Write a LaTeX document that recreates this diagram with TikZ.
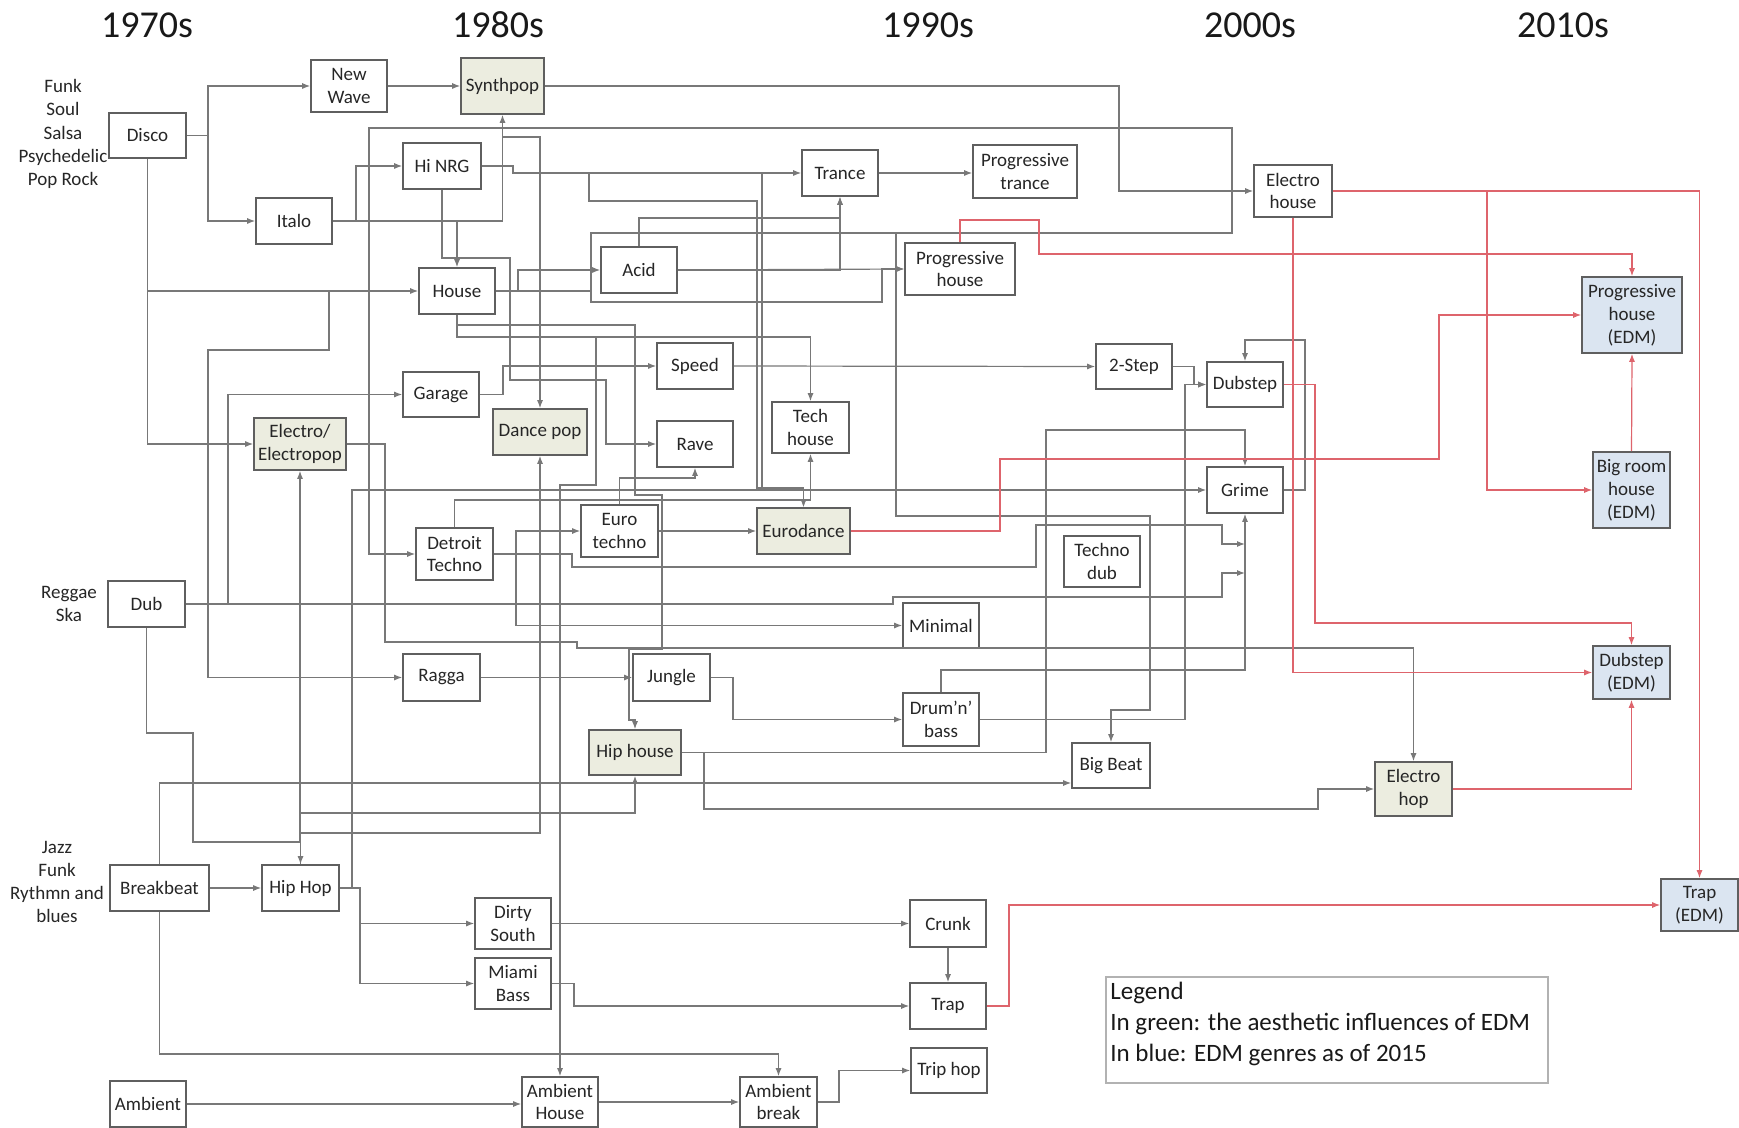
\documentclass[tikz,border=0pt]{standalone}
\usepackage{fontspec}
\setmainfont{Carlito}
\usetikzlibrary{arrows.meta}
\definecolor{boxline}{RGB}{95,95,95}
\definecolor{wire}{RGB}{120,120,120}
\definecolor{redwire}{RGB}{222,100,108}
\definecolor{greenfill}{RGB}{236,237,224}
\definecolor{bluefill}{RGB}{219,229,241}
\tikzset{
  gbox/.style={draw=boxline, line width=0.8pt, fill=white, inner sep=1pt,
    align=center, font=\fontsize{9.5}{11.4}\selectfont, text=black!85},
  infl/.style={fill=greenfill},
  edm/.style={fill=bluefill},
  conn/.style={draw=wire, line width=0.6pt, -{Latex[length=4pt,width=3pt]}},
  rconn/.style={conn, draw=redwire},
  decade/.style={font=\fontsize{19}{22}\selectfont, text=black!90},
  roots/.style={align=center, font=\fontsize{9.5}{11.65}\selectfont, text=black!85},
}
% genre box from its corners: [style]{name}{x1}{y1}{x2}{y2}{text}
\newcommand{\genre}[7][]{%
  \pgfmathsetmacro\gw{(#5-#3)*0.5}%
  \pgfmathsetmacro\gh{(#6-#4)*0.5}%
  \node[gbox,#1,minimum width=\gw pt,minimum height=\gh pt] (#2)
    at ({(#3+#5)/2},{(#4+#6)/2}) {#7};}
\begin{document}
\begin{tikzpicture}[x=0.5pt,y=-0.5pt]
\fill[white] (0,0) rectangle (1739,1128);
\useasboundingbox (0,0) rectangle (1739,1128);

% decades
\node[decade] (d70) at (147,25) {1970s};
\node[decade] (d80) at (498,25) {1980s};
\node[decade] (d90) at (928,25) {1990s};
\node[decade] (d00) at (1250,25) {2000s};
\node[decade] (d10) at (1563,25) {2010s};

% roots
\node[roots] (rootsA) at (63,134) {Funk\\Soul\\Salsa\\Psychedelic\\Pop Rock};
\node[roots] (rootsB) at (69,604) {Reggae\\Ska};
\node[roots] (rootsC) at (57,882) {Jazz\\Funk\\Rythmn and\\blues};

% genres
\genre{disco}{109}{113}{186}{158}{Disco}
\genre{newwave}{311}{60}{387}{112}{New\\Wave}
\genre[infl]{synthpop}{461}{58}{544}{114}{Synthpop}
\genre{italo}{256}{198}{332}{244}{Italo}
\genre{hinrg}{403}{143}{481}{189}{Hi NRG}
\genre{house}{419}{268}{495}{314}{House}
\genre{trance}{802}{150}{878}{196}{Trance}
\genre{progtrance}{973}{145}{1077}{198}{Progressive\\trance}
\genre{acid}{601}{247}{677}{293}{Acid}
\genre{proghouse}{905}{243}{1015}{295}{Progressive\\house}
\genre{electrohouse}{1254}{165}{1332}{217}{Electro\\house}
\genre{garage}{403}{372}{479}{417}{Garage}
\genre{speed}{657}{343}{733}{389}{Speed}
\genre{twostep}{1096}{344}{1172}{389}{2-Step}
\genre{dubstep}{1207}{362}{1283}{407}{Dubstep}
\genre[edm]{phedm}{1582}{277}{1682}{353}{Progressive\\house\\(EDM)}
\genre[infl]{electro}{254}{418}{346}{470}{Electro/\\Electropop}
\genre[infl]{dancepop}{493}{409}{587}{455}{Dance pop}
\genre{rave}{657}{421}{733}{467}{Rave}
\genre{techhouse}{772}{402}{849}{453}{Tech\\house}
\genre{eurotechno}{581}{505}{658}{557}{Euro\\techno}
\genre[infl]{eurodance}{757}{508}{850}{554}{Eurodance}
\genre{detroit}{416}{528}{493}{580}{Detroit\\Techno}
\genre{grime}{1207}{467}{1283}{513}{Grime}
\genre{technodub}{1064}{536}{1140}{587}{Techno\\dub}
\genre{dub}{108}{581}{185}{627}{Dub}
\genre{minimal}{903}{603}{979}{648}{Minimal}
\genre{ragga}{403}{654}{480}{701}{Ragga}
\genre{jungle}{633}{654}{710}{701}{Jungle}
\genre{dnb}{903}{693}{979}{746}{Drum’n’\\bass}
\genre[infl]{hiphouse}{589}{730}{681}{775}{Hip house}
\genre{bigbeat}{1072}{743}{1150}{788}{Big Beat}
\genre[edm]{brhedm}{1593}{452}{1670}{528}{Big room\\house\\(EDM)}
\genre[edm]{dsedm}{1593}{646}{1670}{699}{Dubstep\\(EDM)}
\genre[infl]{electrohop}{1375}{762}{1452}{816}{Electro\\hop}
\genre{breakbeat}{110}{865}{209}{911}{Breakbeat}
\genre{hiphop}{262}{865}{339}{911}{Hip Hop}
\genre{dirtysouth}{475}{898}{551}{949}{Dirty\\South}
\genre{miami}{475}{958}{551}{1009}{Miami\\Bass}
\genre{crunk}{910}{900}{986}{947}{Crunk}
\genre{trap}{910}{983}{986}{1029}{Trap}
\genre{triphop}{911}{1048}{987}{1093}{Trip hop}
\genre[edm]{trapedm}{1661}{879}{1738}{931}{Trap\\(EDM)}
\genre{ambient}{110}{1081}{186}{1127}{Ambient}
\genre{ambhouse}{522}{1077}{598}{1127}{Ambient\\House}
\genre{ambbreak}{740}{1077}{817}{1127}{Ambient\\break}

% legend
\node[draw=black!30, line width=0.8pt, minimum width=221pt, minimum height=53pt,
  inner sep=0pt] (legendbox) at (1327,1030) {};
\node[anchor=north west, align=left, inner sep=0pt,
  font=\fontsize{12.5}{15.5}\selectfont, text=black!90] (legendtext) at (1110,982)
  {Legend\\In green: the aesthetic influences of EDM\\In blue: EDM genres as of 2015};

% joins on the line that climbs into Grime from below
\coordinate (grimejoinA) at (1245,544);
\coordinate (grimejoinB) at (1245,573);

% ---- grey influences ----
\draw[conn] (disco.east) -- (208,135.5) |- (newwave.west);
\draw[conn] (disco.east) -- (208,135.5) |- (italo.west);
\draw[conn] (disco.south) |- (house.west);
\draw[conn] (disco.south) |- (electro.west);
\draw[conn] (disco.south) |- (329,291) -- (329,350) -- (208,350) |- (ragga.west);
\draw[conn] (newwave.east) -- (synthpop.west);
\draw[conn] (italo.east) -- (356,221) |- (hinrg.west);
\draw[conn] (italo.east) -| (synthpop.south);
\draw[conn] (italo.east) -| (house.north);
\draw[conn] (italo.east) -| (502.5,137) -| (dancepop.north);
\draw[conn] (synthpop.east) -- (1119,86) |- (electrohouse.west);
\draw[conn] (hinrg.east) -- (513,166) |- (trance.west);
\draw[conn] (hinrg.east) -- (513,166) |- (589,173) -- (589,201) -- (757,201) -- (757,488) -| (eurodance.north);
\draw[conn] (hinrg.east) -- (513,166) |- (762,173) -- (762,488) -| (eurodance.north);
\draw[conn] (hinrg.south) -- (442,258) -- (510,258) -- (510,380) -- (606,380) |- (rave.west);
\draw[conn] (house.east) -- (518,291) |- (acid.west);
\draw[conn] (house.east) -- (591,291) -- (591,302) -- (882,302) |- (proghouse.west);
\draw[conn] (house.east) -- (591,291) -- (591,233) -- (1232,233) -- (1232,128) -- (369,128) |- (detroit.west);
\draw[conn] (house.east) -- (591,291) -- (591,233) -- (896,233) -- (896,516) -- (1150,516) -- (1150,710) -- (1111,710) -- (bigbeat.north);
\draw[conn] (house.south) |- (635,325) -- (635,495) -- (662,495) -- (662,649) -- (629,649) -- (629,720) -| (hiphouse.north);
\draw[conn] (house.south) -- (457,337) -| (techhouse.north);
\draw[conn] (house.south) -- (457,337) -| (596,485) -- (560,485) -- (ambhouse.north);
\draw[conn] (acid.east) -| (trance.south);
\draw[conn] (acid.north) -- (639,218) -| (trance.south);
\draw[conn] (acid.east) -- (proghouse.west);
\draw[conn] (trance.east) -- (progtrance.west |- trance.east);
\draw[conn] (garage.east) -- (503,394.5) |- (speed.west);
\draw[conn] (dub.east) -- (228,604) |- (garage.west);
\draw[conn] (speed.east) -- (twostep.west);
\draw[conn] (twostep.east) -- (1194,366.5) |- (dubstep.west);
\draw[conn] (electro.east) -- (385,444) -- (385,642) -- (577,642) -- (577,648) -| (electrohop.north);
\draw[conn] (dub.south) -- (146.5,733) -- (193,733) -- (193,842) -| (electro.south);
\draw[conn] (dub.south) -- (146.5,733) -- (193,733) -- (193,842) -| (hiphop.north);
\draw[conn] (hiphop.north) -- (300.5,813) -| (hiphouse.south);
\draw[conn] (hiphop.north) -- (300.5,833) -| (dancepop.south);
\draw[conn] (hiphop.east) -- (352,888) |- (grime.west);
\draw[conn] (hiphop.east) -- (360,888) |- (dirtysouth.west);
\draw[conn] (hiphop.east) -- (360,888) |- (miami.west);
\draw[conn] (breakbeat.east) -- (hiphop.west);
\draw[conn] (breakbeat.north) -- (159.5,783) -- (bigbeat.west |- 0,783);
\draw[conn] (breakbeat.south) -- (159.5,1054) -| (ambbreak.north);
\draw[conn] (dirtysouth.east) -- (crunk.west);
\draw[conn] (miami.east) -- (574,983.5) |- (trap.west);
\draw[conn] (crunk.south) -- (trap.north);
\draw[conn] (ambient.east) -- (ambhouse.west |- ambient.east);
\draw[conn] (ambhouse.east) -- (ambbreak.west);
\draw[conn] (ambbreak.east) -- (839,1102) |- (triphop.west);
\draw[conn] (ragga.east) -- (jungle.west);
\draw[conn] (jungle.east) -- (733,677.5) |- (dnb.west);
\draw[conn] (dnb.east) -- (1185,719.5) |- (dubstep.west);
\draw[conn] (dnb.north) -- (941,670) -| (grime.south);
\draw[conn] (detroit.east) -- (516,554) |- (eurotechno.west);
\draw[conn] (detroit.east) -- (516,554) |- (minimal.west);
\draw[conn] (detroit.east) -- (572,554) -- (572,567) -- (1036,567) -- (1036,525) -- (1222,525) |- (grimejoinA);
\draw[conn] (detroit.north) -- (454.5,500) -| (techhouse.south);
\draw[conn] (dub.east) -- (893,604) -- (893,597) -- (1222,597) |- (grimejoinB);
\draw[conn] (eurotechno.north) -- (619.5,478) -| (rave.south);
\draw[conn] (eurotechno.east) -- (eurodance.west);
\draw[conn] (hiphouse.east) -- (1046,752.5) -- (1046,430) -| (grime.north);
\draw[conn] (hiphouse.east) -- (704,752.5) -- (704,809) -- (1318,809) |- (electrohop.west);
\draw[conn] (grime.east) -- (1305,490) -- (1305,340) -| (dubstep.north);

% ---- red: into the EDM genres ----
\draw[rconn] (proghouse.north) -- (960,220) -- (1039,220) -- (1039,254) -| (phedm.north);
\draw[rconn] (electrohouse.east) -| (trapedm.north);
\draw[rconn] (electrohouse.east) -- (1487,191) |- (brhedm.west);
\draw[rconn] (electrohouse.south) |- (dsedm.west);
\draw[rconn] (eurodance.east) -- (1000,531) -- (1000,459) -- (1439,459) |- (phedm.west);
\draw[rconn] (dubstep.east) -- (1315,384.5) -- (1315,623) -| (dsedm.north);
\draw[rconn] (electrohop.east) -| (dsedm.south);
\draw[rconn] (brhedm.north) -- (phedm.south);
\draw[rconn] (trap.east) -- (1009,1006) |- (trapedm.west);
\end{tikzpicture}
\end{document}
